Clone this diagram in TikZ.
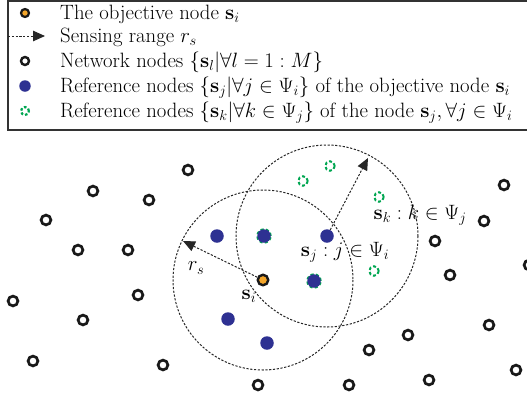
\documentclass[tikz,border=0pt]{standalone}
\usetikzlibrary{arrows.meta,calc}
\definecolor{myorange}{RGB}{244,166,42}
\definecolor{myblue}{RGB}{46,49,146}
\definecolor{mygreen}{RGB}{0,166,81}
\begin{document}
\begin{tikzpicture}[x=1pt,y=-1pt,
  netnode/.style={circle,draw=black!90,line width=2.7pt,minimum size=9.8pt,inner sep=0pt},
  refnode/.style={circle,fill=myblue,minimum size=13.5pt,inner sep=0pt},
  knode/.style={circle,draw=mygreen,line width=2pt,dash pattern=on 3pt off 2.2pt,minimum size=9.5pt,inner sep=0pt},
  objnode/.style={circle,fill=myorange,draw=black!90,line width=2.4pt,minimum size=10.5pt,inner sep=0pt},
  rangecircle/.style={black!85,line width=1pt,dash pattern=on 2.2pt off 1.6pt},
  rangearrow/.style={black!85,line width=1pt,dash pattern=on 2.2pt off 1.6pt,-{Triangle[length=12pt,width=10.5pt]}},
  lbl/.style={font=\fontsize{20.74}{24}\selectfont,inner sep=0pt},
  legtext/.style={lbl,anchor=base west,text height=13pt,text depth=4pt}]
\useasboundingbox (0,0) rectangle (527,400);
\clip (0,0) rectangle (527,400);
% legend
\draw[black!80,line width=1.5pt] (8,1) rectangle (540,130);
\node[objnode,minimum size=8pt,line width=2.2pt] (l1) at (25,13) {};
\node[legtext] (t1) at (60,19) {The objective node $\mathbf{s}_i$};
\coordinate (l2a) at (8,36);
\coordinate (l2b) at (45,36);
\draw[rangearrow] (l2a) -- (l2b);
\node[legtext] (t2) at (60,42) {Sensing range $r_s$};
\node[netnode,minimum size=8pt,line width=2.4pt] (l3) at (25,61) {};
\node[legtext] (t3) at (60,67) {Network nodes $\{\mathbf{s}_l|\forall l=1:M\}$};
\node[refnode,minimum size=11.5pt] (l4) at (25,86) {};
\node[legtext] (t4) at (60,92) {Reference nodes $\{\mathbf{s}_j|\forall j\in\Psi_i\}$ of the objective node $\mathbf{s}_i$};
\node[knode,minimum size=8pt,line width=2.2pt,dash pattern=on 2.6pt off 2pt] (l5) at (25,111) {};
\node[legtext] (t5) at (60,117) {Reference nodes $\{\mathbf{s}_k|\forall k\in\Psi_j\}$ of the node $\mathbf{s}_j,\forall j\in\Psi_i$};
% network nodes
\foreach \p [count=\n] in {(188,170),(93,191),(149,200),(46,220),(78,250),(128,250),(13,301),(138,295),(83,320),(33,361),(163,365),(504,185),(484,221),(435,241),(529,265),(450,275),(489,325),(408,335),(369,350),(516,370),(429,380),(349,385),(258,385)}
  \node[netnode] (n\n) at \p {};
% k nodes that are also reference nodes (under the blue dots)
\node[knode,minimum size=13pt,line width=2.4pt] (k5) at (264,236) {};
\node[knode,minimum size=13pt,line width=2.4pt] (k6) at (314,281) {};
% reference nodes
\node[refnode] (r1) at (217,236) {};
\node[refnode] (r2) at (264,236) {};
\node[refnode] (sj) at (327,236) {};
\node[refnode] (r4) at (314,281) {};
\node[refnode] (r5) at (228,319) {};
\node[refnode] (r6) at (267,343) {};
% k nodes
\node[knode] (k1) at (330,166) {};
\node[knode] (k2) at (303,181) {};
\node[knode] (k3) at (379,197) {};
\node[knode] (k4) at (374,271) {};
% objective node
\node[objnode] (obj) at (263,280) {};
% ranges
\draw[rangecircle] (obj.center) circle[radius=90];
\draw[rangecircle] (sj.center) circle[radius=91];
\coordinate (ra) at (183,241);
\coordinate (rb) at (368,158);
\draw[rangearrow] (obj) -- (ra);
\draw[rangearrow] (sj) -- (rb);
% labels
\node[lbl] (lrs) at (196,268) {$r_s$};
\node[lbl] (lsi) at (249,296) {$\mathbf{s}_i$};
\node[lbl] (lsj) at (345,252) {$\mathbf{s}_j:j\in\Psi_i$};
\node[lbl] (lsk) at (420,215) {$\mathbf{s}_k:k\in\Psi_j$};
\end{tikzpicture}
\end{document}
